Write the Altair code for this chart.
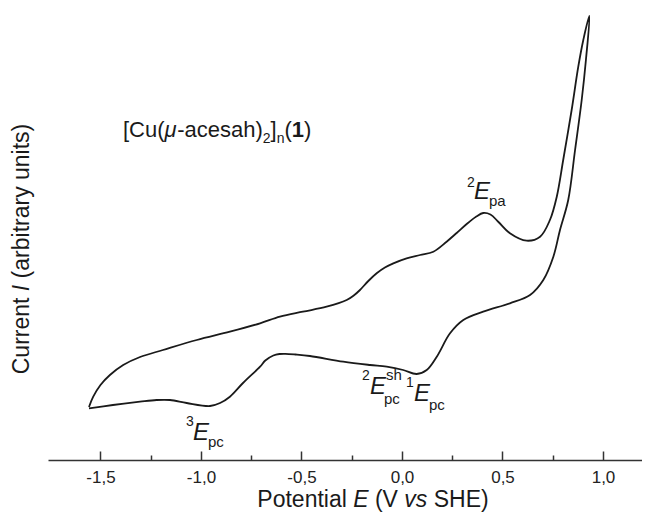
import altair as alt
import pandas as pd

# ---------------- data ----------------
# anodic (upper) branch, left -> right
upper_E = [-1.557, -1.536, -1.500, -1.453, -1.387, -1.303, -1.189, -1.021, -0.856, -0.706,
           -0.607, -0.493, -0.375, -0.275, -0.240, -0.209, -0.170, -0.126, -0.085, -0.043,
           0.023, 0.090, 0.156, 0.222, 0.272, 0.322, 0.370, 0.404, 0.440, 0.480,
           0.537, 0.620, 0.687, 0.736, 0.770, 0.802, 0.844, 0.877, 0.902, 0.932]
upper_I = [53, 63.3, 75, 85, 95, 103, 110, 120, 128.3, 136.7,
           143.3, 148.3, 153.3, 160, 164.5, 170, 178.5, 186.7, 192.5, 196.7,
           201.7, 205, 208.3, 218.3, 227, 236, 243.5, 247, 245.5, 238,
           226.7, 219.3, 223.3, 240, 263.3, 300, 350, 393.3, 420, 444]
# cathodic (lower) branch, right -> left
lower_E = [0.915, 0.894, 0.861, 0.827, 0.786, 0.753, 0.703, 0.637, 0.537, 0.404,
           0.305, 0.239, 0.173, 0.123, 0.073, 0.006, -0.076, -0.159, -0.292, -0.458,
           -0.530, -0.580, -0.610, -0.640, -0.680, -0.706, -0.791, -0.856, -0.905, -0.955,
           -1.071, -1.154, -1.221, -1.303, -1.438, -1.557]
lower_I = [400, 360, 310, 260, 230, 203.3, 180, 165, 156.7, 148.3,
           140, 126.7, 103.3, 90, 86, 90, 93.3, 95, 98.3, 104,
           105.5, 106.2, 106, 104.5, 99.5, 93.3, 77, 63.3, 57, 54,
           57, 60, 60, 58.3, 55, 51.7]

major_ticks = [-1.5, -1.0, -0.5, 0.0, 0.5, 1.0]
minor_ticks = [-1.25, -0.75, -0.25, 0.25, 0.75]

E_all = upper_E + lower_E
I_all = upper_I + lower_I
curve = pd.DataFrame({"E": E_all, "I": I_all, "k": list(range(len(E_all)))})

# ---------------- layout ----------------
FONT = "Liberation Sans"
INK = "#1a1a1a"
W, H = 594, 445
X0, Y0 = 48, 15            # page position of the plot area's top-left corner
x_dom = [-1.761, 1.194]
y_dom = [0, 445]
ppu = W / (x_dom[1] - x_dom[0])

def px2E(px):
    return x_dom[0] + (px - X0) / ppu

def py2I(py):
    return y_dom[1] - (py - Y0) * (y_dom[1] - y_dom[0]) / H

# Arial / Liberation Sans advance widths (per 1000 em)
AW = {' ': 278, '(': 333, ')': 333, '-': 333, ',': 278, '1': 556, '2': 556, '3': 556,
      '[': 278, ']': 278, 'μ': 576, 'C': 722, 'E': 667, 'H': 722, 'I': 278, 'P': 667,
      'S': 667, 'V': 667, 'a': 556, 'b': 556, 'c': 500, 'e': 556, 'h': 556, 'i': 222,
      'l': 222, 'n': 556, 'o': 556, 'p': 556, 'r': 333, 's': 500, 't': 278, 'u': 556,
      'v': 500, 'y': 500}

def width(t, fs):
    return sum(AW.get(c, 556) for c in t) * fs / 1000.0

pieces = []  # dicts: t, px, py, fs, style, weight, angle

def run(x, base, parts):
    """parts: (text, fontsize, style, weight, baseline shift)"""
    for t, fs, st, wt, sh in parts:
        lead = len(t) - len(t.lstrip(" "))
        pieces.append(dict(t=t.strip(" "), px=x + width(" " * lead, fs), py=base + sh,
                           fs=fs, style=st, weight=wt, angle=0))
        x += width(t, fs)

def run_vertical(xb, ybottom, parts):
    y = ybottom
    for t, fs, st, wt in parts:
        lead = len(t) - len(t.lstrip(" "))
        pieces.append(dict(t=t.strip(" "), px=xb, py=y - width(" " * lead, fs),
                           fs=fs, style=st, weight=wt, angle=270))
        y -= width(t, fs)

# compound label
run(123, 137, [("[Cu(", 22, "normal", "normal", 0), ("μ", 22, "italic", "normal", 0),
               ("-acesah)", 22, "normal", "normal", 0), ("2", 14, "normal", "normal", 6),
               ("]", 22, "normal", "normal", 0), ("n", 14, "normal", "normal", 6),
               ("(", 22, "normal", "normal", 0), ("1", 22, "normal", "bold", 0),
               (")", 22, "normal", "normal", 0)])

# x-axis title
xt_parts = [("Potential ", 23, "normal", "normal", 0), ("E", 23, "italic", "normal", 0),
            (" (V ", 23, "normal", "normal", 0), ("vs", 23, "italic", "normal", 0),
            (" SHE)", 23, "normal", "normal", 0)]
xt_w = sum(width(p[0], p[1]) for p in xt_parts)
run(373 - xt_w / 2, 507, xt_parts)

# y-axis title
yt_parts = [("Current ", 23, "normal", "normal"), ("I", 23, "italic", "normal"),
            (" (arbitrary units)", 23, "normal", "normal")]
yt_w = sum(width(p[0], p[1]) for p in yt_parts)
run_vertical(29, 249 + yt_w / 2, yt_parts)

# peak annotations
run(467, 187, [("2", 14, "normal", "normal", 0)])
run(474, 199, [("E", 24, "italic", "normal", 0)])
run(489, 206, [("pa", 15, "normal", "normal", 0)])

run(186, 426, [("3", 14, "normal", "normal", 0)])
run(193, 440, [("E", 24, "italic", "normal", 0)])
run(208, 447, [("pc", 15, "normal", "normal", 0)])

run(362, 380, [("2", 14, "normal", "normal", 0)])
run(370, 394, [("E", 24, "italic", "normal", 0)])
run(386, 380, [("sh", 15, "normal", "normal", 0)])
run(384, 404, [("pc", 15, "normal", "normal", 0)])

run(406, 387, [("1", 14, "normal", "normal", 0)])
run(414, 401, [("E", 24, "italic", "normal", 0)])
run(429, 410, [("pc", 15, "normal", "normal", 0)])

txt = pd.DataFrame(pieces)
txt["E"] = txt["px"].apply(px2E)
txt["I"] = txt["py"].apply(py2I)

xs = alt.Scale(domain=x_dom, nice=False, zero=False)
ys = alt.Scale(domain=y_dom, nice=False, zero=False)

label_expr = "(datum.value < 0 ? '-' : '') + replace(format(abs(datum.value), '.1f'), '.', ',')"

major_axis = alt.Axis(values=major_ticks, labelExpr=label_expr, orient="bottom",
                      tickSize={"expr": "-9"}, tickWidth=1.5, tickColor="#333",
                      domainColor="#333", domainWidth=1.5, labelFont=FONT,
                      labelFontSize=17, labelColor="#222", labelPadding=18,
                      title=None, grid=False)
minor_axis = alt.Axis(values=minor_ticks, labels=False, domain=False, orient="bottom",
                      tickSize={"expr": "-5"}, tickWidth=1.5, tickColor="#333",
                      title=None, grid=False)
y_axis = alt.Axis(ticks=False, labels=False, title=None, grid=False,
                  domainColor="#333", domainWidth=1.5)

line = alt.Chart(curve).mark_line(interpolate="catmull-rom", color=INK, strokeWidth=1.8).encode(
    x=alt.X("E:Q", scale=xs, axis=major_axis),
    y=alt.Y("I:Q", scale=ys, axis=y_axis),
    order="k:Q",
)
minor = alt.Chart(curve).mark_line(opacity=0).encode(
    x=alt.X("E:Q", scale=xs, axis=minor_axis),
    y=alt.Y("I:Q", scale=ys, axis=None),
    order="k:Q",
)

text_layers = []
for (st, wt, ang), g in txt.groupby(["style", "weight", "angle"]):
    text_layers.append(
        alt.Chart(g).mark_text(align="left", baseline="alphabetic", font=FONT,
                               fontStyle=st, fontWeight=wt, angle=int(ang), color=INK).encode(
            x=alt.X("E:Q", scale=xs, axis=None),
            y=alt.Y("I:Q", scale=ys, axis=None),
            text="t:N",
            size=alt.Size("fs:Q", scale=None, legend=None),
        )
    )

chart = alt.layer(line, minor, *text_layers).resolve_axis(x="independent").properties(
    width=W, height=H,
    padding={"left": X0 - 8, "top": Y0 - 8, "right": 0, "bottom": 58},
    autosize=alt.AutoSizeParams(type="none"),
).configure_view(stroke=None)

chart.save("out.html", embed_options={"renderer": "svg", "actions": False})
